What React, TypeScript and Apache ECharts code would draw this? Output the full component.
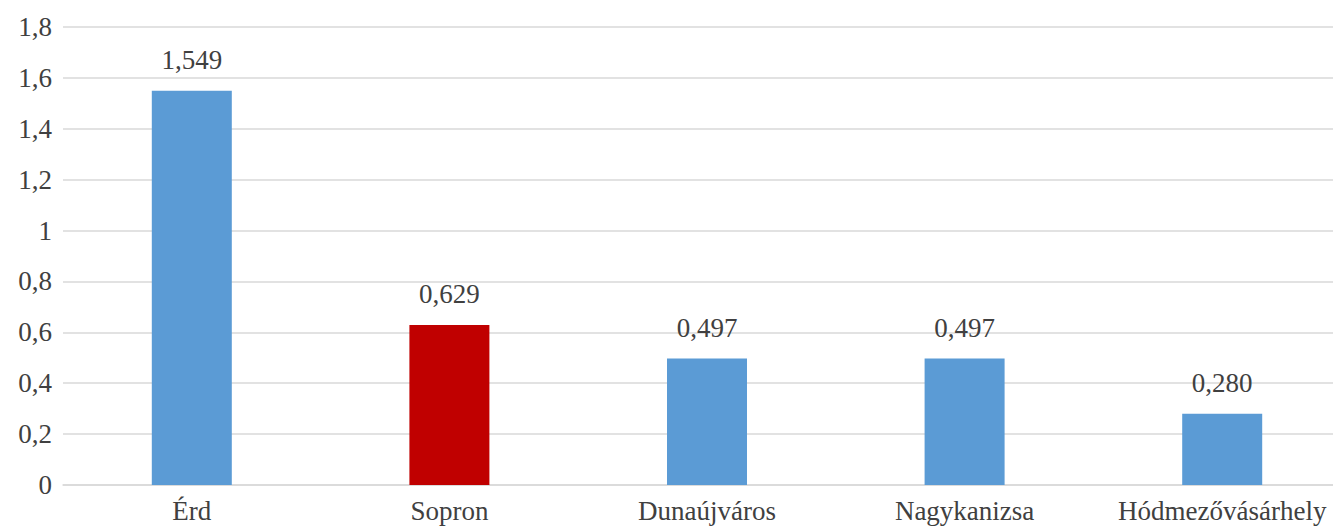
import React, { useEffect, useRef } from "react";
import * as echarts from "echarts";

const categories = ["Érd", "Sopron", "Dunaújváros", "Nagykanizsa", "Hódmezővásárhely"];
const values = [1.549, 0.629, 0.497, 0.497, 0.28];
const barColors = ["#5B9BD5", "#C00000", "#5B9BD5", "#5B9BD5", "#5B9BD5"];

const FONT = "Liberation Serif";
const TEXT = "#404040";

export default function App() {
  const ref = useRef<HTMLDivElement>(null);
  useEffect(() => {
    if (!ref.current) return;
    const chart = echarts.init(ref.current, null, { renderer: "svg" });
    chart.setOption({
      animation: false,
      backgroundColor: "#ffffff",
      textStyle: { fontFamily: FONT },
      grid: { left: 63, top: 27, right: 0, bottom: 44, containLabel: false },
      xAxis: {
        type: "category",
        data: categories,
        axisLine: { show: true, lineStyle: { color: "#D9D9D9", width: 1.5 } },
        axisTick: { show: false },
        axisLabel: {
          color: TEXT,
          fontFamily: FONT,
          fontSize: 27,
          margin: 12,
          interval: 0,
        },
      },
      yAxis: {
        type: "value",
        min: 0,
        max: 1.8,
        interval: 0.2,
        axisLine: { show: false },
        axisTick: { show: false },
        splitLine: { lineStyle: { color: "#D9D9D9", width: 1.5 } },
        axisLabel: {
          color: TEXT,
          fontFamily: FONT,
          fontSize: 27,
          margin: 11,
          formatter: (v: number) => {
            const r = Math.round(v * 10) / 10;
            return String(r).replace(".", ",");
          },
        },
      },
      series: [
        {
          type: "bar",
          barWidth: 80,
          data: values.map((v, i) => ({ value: v, itemStyle: { color: barColors[i] } })),
          label: {
            show: true,
            position: "top",
            distance: 17,
            color: TEXT,
            fontFamily: FONT,
            fontSize: 27,
            formatter: (p: any) => p.value.toFixed(3).replace(".", ","),
          },
        },
      ],
    });
    return () => chart.dispose();
  }, []);
  return (
    <div style={{ position: "absolute", left: 0, top: 0, width: 1333, height: 529, overflow: "hidden" }}>
      <div ref={ref} style={{ width: 1351, height: 529 }} />
    </div>
  );
}
